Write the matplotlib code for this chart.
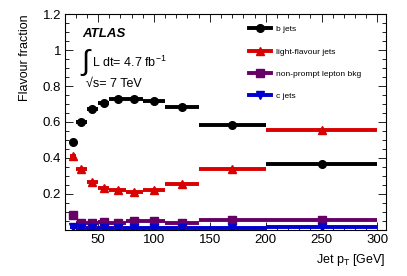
import numpy as np
import matplotlib
matplotlib.use("Agg")
import matplotlib.pyplot as plt
from matplotlib.lines import Line2D
from matplotlib.ticker import MultipleLocator, FixedLocator

plt.rcParams['font.family'] = ['Liberation Sans', 'DejaVu Sans']
plt.rcParams['mathtext.fontset'] = 'custom'
plt.rcParams['mathtext.rm'] = 'Liberation Sans'
plt.rcParams['mathtext.it'] = 'Liberation Sans:italic'

# bin edges in jet pT [GeV]
bin_lo = [25, 30, 40, 50, 60, 75, 90, 110, 140, 200]
bin_hi = [30, 40, 50, 60, 75, 90, 110, 140, 200, 300]

b_jets = [0.489, 0.602, 0.674, 0.704, 0.730, 0.726, 0.717, 0.685, 0.582, 0.367]
light_jets = [0.411, 0.337, 0.267, 0.235, 0.220, 0.211, 0.222, 0.258, 0.341, 0.556]
nonprompt = [0.082, 0.041, 0.037, 0.044, 0.036, 0.047, 0.047, 0.039, 0.056, 0.056]
c_jets = [0.018, 0.012, 0.011, 0.012, 0.011, 0.011, 0.011, 0.011, 0.013, 0.014]

series = [
    ("b jets", b_jets, "black", "o"),
    ("light-flavour jets", light_jets, "#d80000", "^"),
    ("non-prompt lepton bkg", nonprompt, "#660066", "s"),
    ("c jets", c_jets, "#0000d0", "v"),
]

lo = np.array(bin_lo, float)
hi = np.array(bin_hi, float)
xc = (lo + hi) / 2
xerr = (hi - lo) / 2

fig = plt.figure(figsize=(4.07, 2.76), dpi=100)
ax = fig.add_axes([0.160, 0.167, 0.788, 0.782])

handles = []
for name, vals, col, mk in series:
    ax.errorbar(xc, vals, xerr=xerr, fmt=mk, color=col, ms=5.5,
                elinewidth=2.8, capsize=0)
    handles.append(Line2D([], [], color=col, marker=mk, ms=5.5, lw=2.8, label=name))

ax.set_xlim(20.5, 307.5)
ax.set_ylim(0, 1.2)
ax.xaxis.set_major_locator(MultipleLocator(50))
ax.xaxis.set_minor_locator(MultipleLocator(10))
ax.yaxis.set_major_locator(FixedLocator([0.2, 0.4, 0.6, 0.8, 1.0, 1.2]))
ax.yaxis.set_minor_locator(MultipleLocator(0.05))
ax.set_yticklabels(["0.2", "0.4", "0.6", "0.8", "1", "1.2"])
ax.tick_params(which='both', direction='in', top=True, right=True, labelsize=9.5,
               width=0.6, pad=3)
ax.tick_params(which='major', length=6)
ax.tick_params(which='minor', length=3)
for s in ax.spines.values():
    s.set_linewidth(0.8)

ax.set_xlabel(r"Jet p$_\mathrm{T}$ [GeV]", fontsize=9, loc='right', labelpad=4)
ax.set_ylabel("Flavour fraction", fontsize=9, loc='top', labelpad=8)

leg = ax.legend(handles=handles, loc='upper left', bbox_to_anchor=(0.573, 0.947),
                frameon=False, fontsize=6.0, labelspacing=1.72, handlelength=2.65,
                handletextpad=0.55, borderaxespad=0, borderpad=0)

ax.text(0.053, 0.907, "ATLAS", transform=ax.transAxes, fontsize=9.5,
        fontweight='bold', fontstyle='italic', va='center')
ax.text(0.046, 0.775, r"$\int$", transform=ax.transAxes, fontsize=21, va='center')
ax.text(0.084, 0.778, r"L dt= 4.7 fb$^{-1}$", transform=ax.transAxes, fontsize=9,
        va='center')
ax.text(0.065, 0.676, "\u221as= 7 TeV", transform=ax.transAxes, fontsize=9,
        va='center')

fig.savefig("out.png", dpi=100)
